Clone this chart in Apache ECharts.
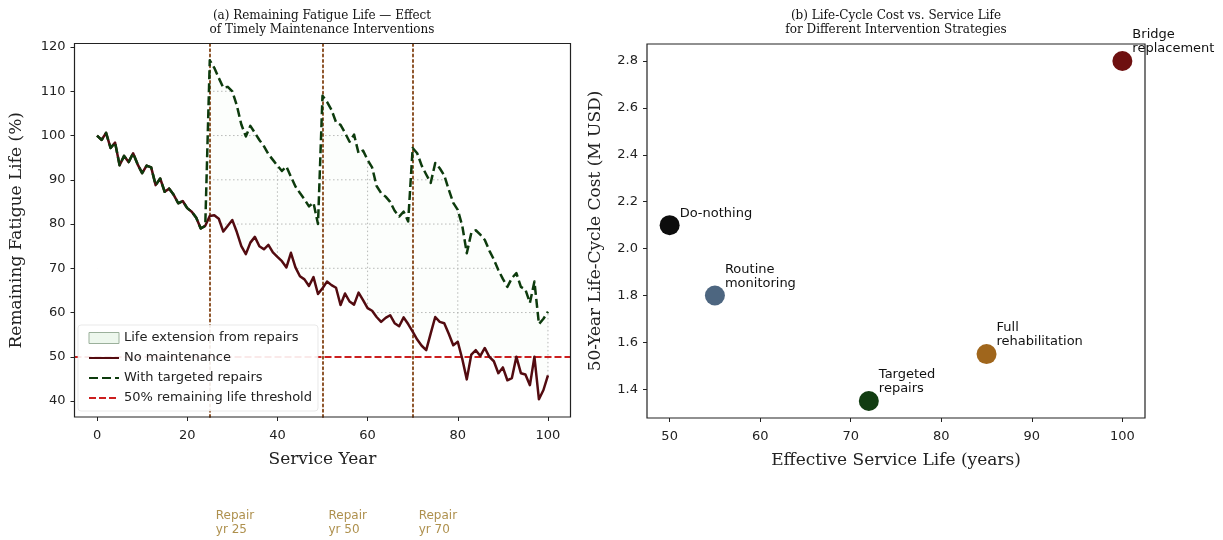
<!DOCTYPE html>
<html>
<head>
<meta charset="utf-8">
<script src="https://cdn.jsdelivr.net/npm/echarts@6/dist/echarts.min.js"></script>
<style>
  html, body { margin: 0; padding: 0; background: #fff; }
  #chart { width: 1223px; height: 540px; }
</style>
</head>
<body>
<div id="chart"></div>
<script>
// ---- Panel (a): remaining fatigue life per service year ----
const noMaintenance = [
  100.0, 99.0, 100.6, 97.2, 98.4, 93.3, 95.4, 94.0, 96.0, 93.5,
  91.5, 93.2, 92.8, 88.8, 90.3, 87.3, 88.0, 86.6, 84.7, 85.2,
  83.6, 82.8, 81.4, 79.0, 79.6, 81.8, 82.0, 81.2, 78.3, 79.6,
  80.9, 78.2, 75.0, 73.2, 75.8, 77.1, 75.0, 74.3, 75.3, 73.6,
  72.6, 71.6, 70.2, 73.5, 70.2, 68.2, 67.5, 66.0, 68.0, 64.2,
  65.5, 67.0, 66.2, 65.6, 61.7, 64.3, 62.5, 61.8, 64.5, 62.8,
  61.0, 60.4, 59.0, 57.9, 58.8, 59.4, 57.6, 56.9, 58.9, 57.4,
  55.7, 53.9, 52.5, 51.5, 55.3, 59.0, 57.9, 57.6, 55.2, 52.6,
  53.4, 49.5, 44.9, 50.5, 51.5, 50.2, 52.0, 50.0, 49.0, 46.3,
  47.6, 44.7, 45.2, 50.0, 46.3, 46.0, 43.6, 50.0, 40.4, 42.5,
  45.8
];
const withRepairs = [
  100.0, 99.0, 100.6, 97.2, 98.4, 93.3, 95.4, 94.0, 96.0, 93.5,
  91.5, 93.2, 92.8, 88.8, 90.3, 87.3, 88.0, 86.6, 84.7, 85.2,
  83.6, 82.8, 81.4, 79.0, 79.6, 117.0, 115.3, 113.0, 110.8, 111.0,
  110.0, 106.8, 102.5, 99.8, 102.2, 100.6, 99.0, 97.6, 95.8, 94.5,
  93.2, 92.0, 93.0, 90.7, 88.5, 87.0, 85.6, 84.0, 84.8, 80.0,
  109.0, 107.6, 105.8, 103.0, 102.4, 100.6, 98.6, 100.2, 96.0, 96.6,
  94.5, 92.8, 88.6, 87.0, 86.2, 85.0, 83.0, 81.7, 82.8, 80.6,
  97.2, 96.0, 93.2, 91.2, 89.3, 93.8, 92.6, 91.0, 87.8, 84.8,
  83.2, 79.6, 73.4, 78.0, 78.6, 77.6, 76.4, 74.0, 72.0, 69.6,
  67.6, 65.8, 67.8, 68.9, 65.8, 65.2, 62.2, 67.0, 57.4, 58.6,
  60.2
];
const repairYears = [25, 50, 70];
const lifeThreshold = 50;
const yearTicks = [0, 20, 40, 60, 80, 100];
const lifeTicks = [40, 50, 60, 70, 80, 90, 100, 110, 120];

// ---- Panel (b): cost vs. service life per strategy ----
const strategies = ['Do-nothing', 'Routine monitoring', 'Targeted repairs', 'Full rehabilitation', 'Bridge replacement'];
const strategyLabels = ['Do-nothing', 'Routine\nmonitoring', 'Targeted\nrepairs', 'Full\nrehabilitation', 'Bridge\nreplacement'];
const serviceLife = [50, 55, 72, 85, 100];
const lifeCycleCost = [2.10, 1.80, 1.35, 1.55, 2.80];
const serviceLifeTicks = [50, 60, 70, 80, 90, 100];
const costTicks = [1.4, 1.6, 1.8, 2.0, 2.2, 2.4, 2.6, 2.8];

const strategyColors = ['#0d0d0d', '#4d6680', '#123d12', '#a0661c', '#6e1010'];
const INK = '#222';
const SANS = 'DejaVu Sans';
const SERIF = 'DejaVu Serif';
const GRID_STYLE = { stroke: '#b0b0b0', lineWidth: 0.9, lineDash: [1.5, 2.5] };

const pairs = arr => arr.map((v, i) => [i, v]);
const firstYear = 0, lastYear = noMaintenance.length - 1;

const chart = echarts.init(document.getElementById('chart'), null, { renderer: 'canvas' });

const axisCommon = {
  type: 'value',
  axisLine: { show: false, onZero: false },
  splitLine: { show: false },
  nameLocation: 'middle',
  nameTextStyle: { fontFamily: SERIF, fontSize: 17, color: INK },
  z: 31
};
const tickStyle = ticks => ({ show: true, customValues: ticks, length: 4, lineStyle: { color: INK, width: 1 } });
const labelStyle = (ticks, margin, extra) => Object.assign(
  { customValues: ticks, fontFamily: SANS, fontSize: 13, color: INK, margin: margin }, extra || {});

chart.setOption({
  animation: false,
  backgroundColor: '#fff',
  graphic: [
    {
      type: 'text', x: 322, y: 9, z: 50,
      style: {
        text: '(a) Remaining Fatigue Life \u2014 Effect\nof Timely Maintenance Interventions',
        align: 'center', verticalAlign: 'top', lineHeight: 14,
        font: '12px "DejaVu Serif"', fill: '#111'
      }
    },
    {
      type: 'text', x: 896, y: 9, z: 50,
      style: {
        text: '(b) Life-Cycle Cost vs. Service Life\nfor Different Intervention Strategies',
        align: 'center', verticalAlign: 'top', lineHeight: 14,
        font: '12px "DejaVu Serif"', fill: '#111'
      }
    }
  ],
  grid: [
    { left: 74.5, top: 43.5, width: 496, height: 373.5, show: true, borderColor: INK, borderWidth: 1.2, backgroundColor: 'transparent', z: 30 },
    { left: 647, top: 44, width: 498, height: 374, show: true, borderColor: INK, borderWidth: 1.2, backgroundColor: 'transparent', z: 30 }
  ],
  xAxis: [
    Object.assign({}, axisCommon, {
      gridIndex: 0, min: -5, max: 105,
      axisTick: tickStyle(yearTicks), axisLabel: labelStyle(yearTicks, 12),
      name: 'Service Year', nameGap: 34
    }),
    Object.assign({}, axisCommon, {
      gridIndex: 1, min: 47.5, max: 102.5,
      axisTick: tickStyle(serviceLifeTicks), axisLabel: labelStyle(serviceLifeTicks, 12),
      name: 'Effective Service Life (years)', nameGap: 34
    })
  ],
  yAxis: [
    Object.assign({}, axisCommon, {
      gridIndex: 0, min: 36.4, max: 120.8,
      axisTick: tickStyle(lifeTicks), axisLabel: labelStyle(lifeTicks, 9),
      name: 'Remaining Fatigue Life (%)', nameGap: 49
    }),
    Object.assign({}, axisCommon, {
      gridIndex: 1, min: 1.2775, max: 2.8725,
      axisTick: tickStyle(costTicks),
      axisLabel: labelStyle(costTicks, 9, { formatter: v => v.toFixed(1) }),
      name: '50-Year Life-Cycle Cost (M USD)', nameGap: 43
    })
  ],
  legend: {
    orient: 'vertical', left: 78, top: 325, z: 40,
    itemWidth: 30, itemHeight: 11, itemGap: 4,
    padding: [5, 6, 5, 10],
    backgroundColor: 'rgba(255,255,255,0.9)',
    borderColor: 'rgba(220,220,220,0.8)', borderWidth: 0.8, borderRadius: 3,
    textStyle: { fontFamily: SANS, fontSize: 13, color: INK, lineHeight: 16 },
    data: [
      { name: 'Life extension from repairs', icon: 'rect',
        itemStyle: { color: 'rgba(225,242,225,0.6)', borderColor: '#9bb09b', borderWidth: 1 } },
      { name: 'No maintenance', itemStyle: { opacity: 0 } },
      { name: 'With targeted repairs', itemStyle: { opacity: 0 } },
      { name: '50% remaining life threshold', itemStyle: { opacity: 0 } }
    ]
  },
  series: [
    // light dotted grid, shown only across the repair gain region
    {
      type: 'custom', name: 'gridYears', xAxisIndex: 0, yAxisIndex: 0, z: 1, silent: true,
      data: yearTicks.map(x => [x, lifeTicks[0]]),
      renderItem: function (params, api) {
        const x = api.value(0);
        const a = api.coord([x, noMaintenance[x]]);
        const b = api.coord([x, withRepairs[x]]);
        return { type: 'line', shape: { x1: a[0], y1: a[1], x2: b[0], y2: b[1] }, style: GRID_STYLE };
      }
    },
    {
      type: 'custom', name: 'gridLife', xAxisIndex: 0, yAxisIndex: 0, z: 1, silent: true,
      data: lifeTicks.map(v => [firstYear, v]),
      renderItem: function (params, api) {
        const a = api.coord([firstYear, api.value(1)]);
        const b = api.coord([lastYear, api.value(1)]);
        return { type: 'line', shape: { x1: a[0], y1: a[1], x2: b[0], y2: b[1] }, style: GRID_STYLE };
      }
    },
    // white masks below the no-maintenance curve and above the repaired curve
    {
      type: 'line', name: 'maskLow', xAxisIndex: 0, yAxisIndex: 0, data: pairs(noMaintenance),
      symbol: 'none', silent: true, z: 2, lineStyle: { width: 0 },
      areaStyle: { color: '#fff', opacity: 1, origin: 'start' }
    },
    {
      type: 'line', name: 'maskHigh', xAxisIndex: 0, yAxisIndex: 0, data: pairs(withRepairs),
      symbol: 'none', silent: true, z: 2, lineStyle: { width: 0 },
      areaStyle: { color: '#fff', opacity: 1, origin: 'end' }
    },
    // band between the two curves
    {
      type: 'custom', name: 'Life extension from repairs', xAxisIndex: 0, yAxisIndex: 0,
      data: [[0, 0]], z: 3, silent: true,
      itemStyle: { color: 'rgba(225,242,225,0.6)' },
      renderItem: function (params, api) {
        const upper = withRepairs.map((v, i) => api.coord([i, v]));
        const lower = noMaintenance.map((v, i) => api.coord([i, v])).reverse();
        return {
          type: 'polygon',
          shape: { points: upper.concat(lower) },
          style: { fill: 'rgba(200,235,200,0.05)', stroke: 'none' }
        };
      }
    },
    {
      type: 'line', name: 'No maintenance', xAxisIndex: 0, yAxisIndex: 0, data: pairs(noMaintenance),
      symbol: 'none', z: 5,
      itemStyle: { color: '#530b10' },
      lineStyle: { color: '#530b10', width: 2.5, join: 'round' }
    },
    {
      type: 'line', name: 'With targeted repairs', xAxisIndex: 0, yAxisIndex: 0, data: pairs(withRepairs),
      symbol: 'none', z: 6,
      itemStyle: { color: '#0d3b0d' },
      lineStyle: { color: '#0d3b0d', width: 2.5, type: [9, 4], join: 'round' }
    },
    {
      type: 'line', name: 'repairs', xAxisIndex: 0, yAxisIndex: 0, data: [], z: 7, silent: true,
      markLine: {
        silent: true, symbol: 'none', label: { show: false },
        lineStyle: { color: 'rgba(130,66,20,0.9)', type: [2, 3.3], width: 2, cap: 'round' },
        data: repairYears.map(x => ({ xAxis: x }))
      }
    },
    {
      type: 'line', name: '50% remaining life threshold', xAxisIndex: 0, yAxisIndex: 0, data: [], z: 8,
      itemStyle: { color: '#cc1f1f' },
      lineStyle: { color: '#cc1f1f', width: 1.8, type: [7, 3] },
      markLine: {
        silent: true, symbol: 'none', label: { show: false },
        lineStyle: { color: '#cc1f1f', width: 1.8, type: [7, 3] },
        data: [{ yAxis: lifeThreshold }]
      }
    },
    // notes under the year axis
    {
      type: 'scatter', name: 'repairNotes', xAxisIndex: 0, yAxisIndex: 0, clip: false, silent: true,
      symbolSize: 0.01, z: 9,
      data: repairYears.map(y => [y, 12.4]),
      label: {
        show: true, position: 'right', distance: 6, align: 'left',
        formatter: p => 'Repair\nyr ' + p.value[0],
        fontFamily: SANS, fontSize: 12, lineHeight: 14, color: '#9a7420'
      }
    },
    // panel (b)
    {
      type: 'scatter', name: 'strategies', xAxisIndex: 1, yAxisIndex: 1, clip: false, z: 5,
      symbolSize: 20,
      data: strategies.map((s, i) => ({
        name: s,
        value: [serviceLife[i], lifeCycleCost[i]],
        itemStyle: { color: strategyColors[i], opacity: 1 },
        label: { formatter: strategyLabels[i] }
      })),
      label: {
        show: true, position: [20, 5], align: 'left', verticalAlign: 'bottom',
        fontFamily: SANS, fontSize: 13, lineHeight: 14, color: '#111'
      }
    }
  ]
});
</script>
</body>
</html>
